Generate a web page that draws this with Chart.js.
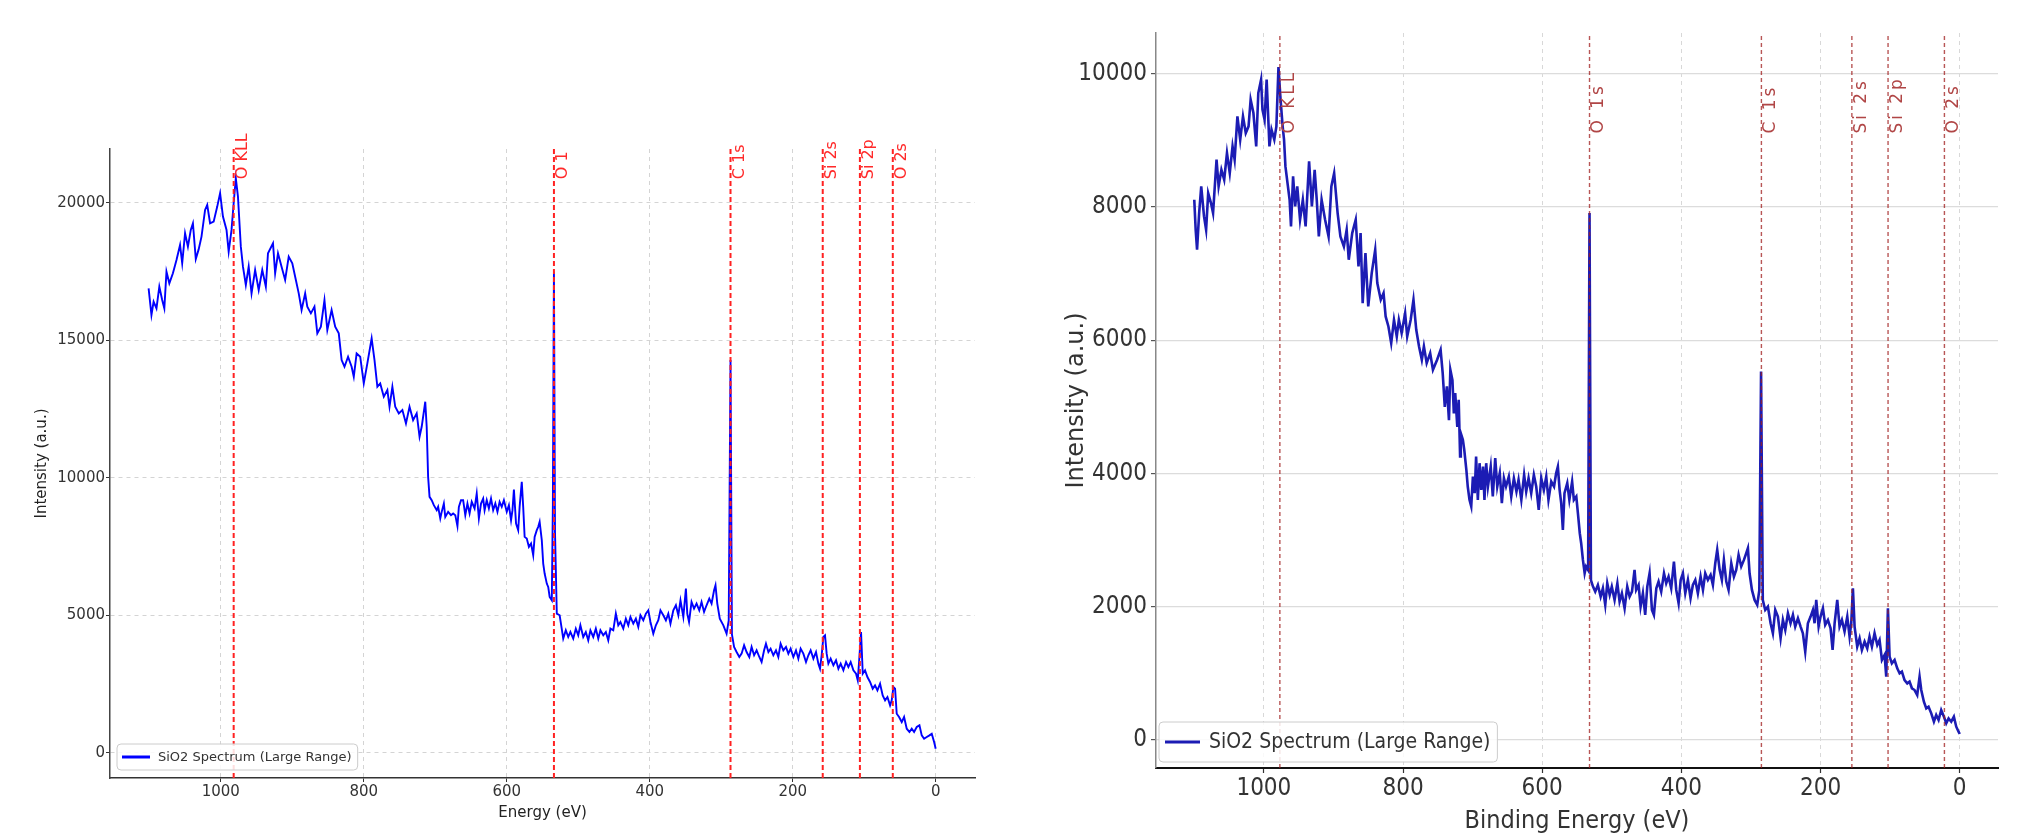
<!DOCTYPE html>
<html>
<head>
<meta charset="utf-8">
<title>SiO2 survey spectra</title>
<script src="https://cdn.jsdelivr.net/npm/chart.js@4.4.1/dist/chart.umd.min.js"></script>
<style>
  html, body { margin: 0; padding: 0; background: #fff; }
  #wrap { position: relative; width: 2023px; height: 834px; overflow: hidden; background: #fff; }
  .panel { position: absolute; top: 0; height: 834px; }
  #leftPanel { left: 0; width: 1010px; }
  #rightPanel { left: 1010px; width: 1013px; }
</style>
</head>
<body>
<div id="wrap">
  <div class="panel" id="leftPanel"><canvas id="leftChart" width="1010" height="834"></canvas></div>
  <div class="panel" id="rightPanel"><canvas id="rightChart" width="1013" height="834"></canvas></div>
</div>
<script>
// ---- left panel: "Energy (eV)" spectrum ----
const leftEnergy = [
  1101, 1097, 1094, 1090, 1086, 1082, 1079, 1076, 1072, 1067, 1062, 1057, 1054, 1050, 1046, 1042, 1039, 1035, 1031, 1027,
  1022, 1019, 1015, 1010, 1005, 1001, 997, 992, 989, 985, 982, 979, 976, 972, 969, 965, 961, 957, 952, 947,
  942, 937, 934, 927, 924, 920, 915, 910, 905, 900, 895, 891, 887, 882, 879, 874, 869, 865, 860, 855,
  851, 845, 840, 835, 831, 827, 822, 817, 814, 810, 805, 800, 795, 789, 785, 781, 777, 772, 767, 764,
  760, 756, 751, 746, 741, 736, 731, 726, 722, 719, 714, 712, 710, 708, 705, 702, 698, 696, 693, 691,
  688, 686, 682, 678, 675, 672, 669, 667, 664, 661, 658, 655, 652, 649, 645, 642, 639, 636, 633, 631,
  628, 625, 622, 619, 616, 613, 610, 607, 604, 600, 597, 594, 592, 590, 587, 584, 582, 579, 577, 575,
  572, 569, 566, 563, 561, 558, 556, 554, 551, 549, 547, 544, 542, 540, 537, 535.5, 534, 532.5, 530, 526,
  523.5, 521, 517.4, 514, 511, 507, 503.4, 500, 497, 493, 489.4, 486, 483, 479, 475.4, 472, 469, 465, 461.4, 458,
  455, 451, 447.4, 444, 441, 437, 433.4, 430, 427, 423, 419.4, 416, 413, 409, 405.4, 402, 399, 395, 391.4, 388,
  385, 381, 377.4, 374, 371, 367, 363.4, 360, 357, 353, 349.4, 347.5, 345, 341.5, 338, 334.5, 330.7, 327.5, 324, 320.5,
  316.7, 313.5, 310, 308, 305.5, 302, 297, 292.5, 289.5, 287, 285, 282, 278.5, 274.7, 271.5, 268, 264.5, 260.7, 257.5, 254,
  250.5, 246.7, 243.5, 240, 237.4, 234, 230.9, 227.1, 223.4, 220.1, 216.9, 213.1, 209.4, 206.1, 202.9, 199.1, 195.4, 192.1, 188.9, 185.1,
  181.4, 178.1, 174.9, 171.1, 167.4, 164.1, 161.8, 159.5, 157.1, 154.8, 152.5, 150.1, 146.9, 143.1, 139.4, 136.1, 132.9, 129.1, 125.4, 122.1,
  118.9, 115.1, 111.4, 109, 106.7, 104.4, 102, 98.8, 95.5, 91.8, 88.1, 84.8, 81.5, 77.8, 74.1, 70.8, 67.5, 63.8, 61.5, 59.1,
  56.8, 54.5, 51.2, 47.5, 44.2, 40.5, 36.7, 33.5, 30.2, 26.5, 22.7, 19.5, 16.2, 12.5, 8.7, 5.5, 2.2, 0
];
const leftIntensity = [
  16885, 15914, 16400, 16157, 16945, 16460, 16157, 17490, 17066, 17430, 17915, 18460, 17794, 18886, 18400, 19007, 19250, 17950, 18300, 18765,
  19735, 19917, 19250, 19310, 19856, 20341, 19493, 19007, 18219, 19007, 19978, 20887, 20220, 18400, 17673, 17006, 17673, 16703, 17551, 16824,
  17551, 16945, 18158, 18522, 17430, 18158, 17673, 17187, 18037, 17794, 17187, 16703, 16096, 16703, 16218, 15975, 16218, 15247, 15490, 16460,
  15369, 16096, 15490, 15247, 14276, 14034, 14397, 14034, 13670, 14519, 14397, 13427, 14155, 15065, 14276, 13306, 13427, 12942, 13185, 12578,
  13306, 12578, 12336, 12457, 11972, 12578, 12093, 12336, 11486, 11850, 12760, 11850, 10030, 9303, 9181, 9000, 8818, 8939, 8515, 8757,
  9060, 8575, 8757, 8636, 8697, 8636, 8235, 8939, 9181, 9181, 8636, 9060, 8697, 9121, 8879, 9424, 8515, 9060, 9242, 8818,
  9181, 8879, 9242, 8818, 9060, 8757, 9121, 8939, 9181, 8757, 9000, 8454, 8818, 9570, 8333, 8090, 8939, 9849, 8939, 7847,
  7787, 7484, 7605, 7180, 7847, 8090, 8211, 8393, 7726, 6877, 6513, 6149, 6028, 5664, 5543, 9000, 17490, 8000, 5057, 4997,
  4572, 4148, 4451, 4208, 4390, 4148, 4512, 4269, 4633, 4208, 4390, 4087, 4451, 4208, 4512, 4148, 4451, 4269, 4390, 4087,
  4512, 4451, 5057, 4633, 4754, 4512, 4875, 4633, 4936, 4693, 4875, 4572, 4997, 4815, 5057, 5179, 4754, 4330, 4633, 4815,
  5179, 4997, 4815, 5057, 4693, 5179, 5360, 4997, 5542, 4936, 5967, 5057, 4754, 5482, 5239, 5421, 5179, 5482, 5118, 5360,
  5603, 5421, 5906, 6088, 5421, 4875, 4632, 4329, 4814, 14276, 4300, 3844, 3662, 3480, 3601, 3904, 3662, 3480, 3844, 3541,
  3722, 3480, 3298, 3722, 3965, 3662, 3783, 3541, 3722, 3480, 3965, 3722, 3844, 3601, 3783, 3480, 3722, 3419, 3783, 3601,
  3298, 3541, 3722, 3419, 3662, 3237, 3055, 3541, 4208, 4268, 3601, 3237, 3419, 3177, 3358, 3055, 3237, 2995, 3298, 3116,
  3298, 2995, 2873, 2631, 3480, 4390, 2873, 2995, 2752, 2570, 2328, 2449, 2267, 2509, 2085, 1903, 2024, 1721, 1903, 2388,
  2328, 1418, 1297, 1115, 1297, 872, 751, 872, 751, 933, 994, 630, 508, 569, 630, 690, 387, 144
];
const leftPeakNames = ['O KLL', 'O 1', 'C 1s', 'Si 2s', 'Si 2p', 'O 2s'];
const leftPeakEnergy = [982, 534, 287, 158, 106, 60];
const leftXTicks = [0, 200, 400, 600, 800, 1000];
const leftYTicks = [0, 5000, 10000, 15000, 20000];

// ---- right panel: "Binding Energy (eV)" spectrum ----
const rightEnergy = [
  1100, 1098, 1096, 1093, 1090, 1086, 1083, 1080, 1076, 1073, 1068, 1065, 1061, 1057, 1053, 1049, 1045, 1042, 1038, 1034,
  1030, 1026, 1022, 1019, 1015, 1011, 1008, 1004, 1002, 999, 996, 992, 989, 985, 982, 979, 976, 973, 971, 969,
  966, 963, 961, 958, 955, 952, 948, 944, 940, 935, 931, 927, 924, 921, 917, 912, 907, 903, 899, 894,
  890, 885, 881, 878, 873, 868, 864, 861, 858, 854, 850, 845, 840, 837, 832, 828, 825, 821, 817, 813,
  809, 806, 802, 797, 794, 789, 785, 781, 777, 773, 770, 766, 761, 757, 751, 746, 743, 740, 737, 734,
  732, 729, 727, 725, 722, 720, 718, 717, 714, 712, 709, 707, 704.5, 702, 699.6, 697, 695, 692.5, 690, 687.6,
  685, 683, 680.5, 678, 674, 671, 667.5, 664.6, 661, 658, 655, 652, 648, 644.5, 640.7, 637, 634, 630, 626, 623,
  619.6, 615.8, 612, 608.6, 605, 601.4, 597.6, 594.2, 591, 587, 583, 580, 577.5, 575, 572.7, 570.3, 568, 564, 561, 557,
  554.5, 551, 548.7, 546, 544, 541.5, 539, 537, 534, 532, 530, 527, 523.8, 520, 516, 512.8, 509.4, 506.5, 503, 500,
  496, 492, 488.8, 485.5, 481.6, 477.8, 474.4, 471, 467.3, 465, 461.5, 458.6, 455.3, 452, 449, 445.7, 442.3, 439.5, 436, 432.8,
  429, 425, 421.8, 418.4, 414.6, 410.7, 407.4, 404, 401, 397.8, 394.4, 390.6, 386.8, 383.5, 380, 376.3, 372.4, 369, 365.7, 361.9,
  358, 354.7, 351.3, 348.5, 345, 341.8, 338.9, 335.5, 332.2, 328.3, 324.5, 321.2, 317.8, 314, 310.1, 306.8, 304.4, 302, 298.6, 294.8,
  291, 288, 285.5, 283, 279.5, 275.7, 271.8, 268.5, 265.1, 261.3, 257.4, 254.1, 250.7, 246.9, 243.1, 239.7, 236.4, 232.5, 228.7, 225.4,
  222, 218.2, 214.3, 211, 208.6, 206.2, 202.8, 200, 196.6, 193.3, 189.4, 185.6, 182.7, 179.8, 176, 172.7, 169.3, 165.5, 161.6, 158.3,
  155.9, 153.5, 151.1, 147.3, 143.9, 140.6, 136.7, 132.9, 129.6, 126.2, 122.4, 118.5, 115.2, 111.8, 108, 105.6, 103.2, 100.8, 97.5, 93.6,
  89.8, 86.4, 83.1, 79.3, 75.4, 72.1, 68.7, 64.9, 61.1, 57.7, 55.3, 51.5, 48.1, 44.8, 40.9, 37.1, 33.8, 30.4, 26.6, 22.7,
  19.4, 16, 12.2, 8.4, 5, 1.7, 0
];
const rightIntensity = [
  8108, 7657, 7357, 7908, 8308, 7858, 7657, 8208, 8058, 7908, 8709, 8308, 8558, 8408, 8809, 8508, 8909, 8709, 9359, 9009,
  9359, 9109, 9209, 9609, 9409, 8909, 9709, 9910, 9459, 9309, 9910, 8909, 9159, 9009, 9209, 10100, 9609, 9209, 9009, 8608,
  8358, 8108, 7707, 8458, 8008, 8308, 7808, 8108, 7707, 8684, 8008, 8558, 8108, 7557, 8108, 7808, 7557, 8308, 8508, 7908,
  7557, 7407, 7657, 7207, 7607, 7808, 7107, 7607, 6556, 7307, 6506, 7007, 7357, 6857, 6607, 6707, 6356, 6206, 5956, 6306,
  6056, 6306, 6106, 6406, 6056, 6306, 6607, 6156, 5906, 5706, 5906, 5656, 5806, 5556, 5706, 5856, 5506, 5000, 5306, 4800,
  5556, 5400, 4900, 5206, 4700, 5105, 4254, 4605, 4505, 4354, 4054, 3804, 3604, 3504, 3954, 3704, 4254, 3604, 4154, 3754,
  4104, 3604, 4154, 3804, 4104, 3654, 4229, 3804, 4004, 3554, 3929, 3804, 3954, 3654, 3929, 3729, 3904, 3604, 3979, 3729,
  3929, 3704, 3979, 3804, 3454, 3929, 3754, 3954, 3604, 3879, 3804, 4004, 4104, 3754, 3554, 3153, 3704, 3854, 3604, 3879,
  3604, 3654, 3404, 3103, 2953, 2703, 2503, 2603, 2550, 7908, 2400, 2302, 2227, 2327, 2152, 2277, 2027, 2352, 2177, 2302,
  2102, 2352, 2077, 2202, 1977, 2302, 2152, 2227, 2553, 2252, 2327, 2002, 2202, 1877, 2302, 2502, 1952, 1877, 2277, 2377,
  2227, 2502, 2352, 2452, 2277, 2678, 2252, 2052, 2402, 2502, 2202, 2402, 2127, 2327, 2402, 2202, 2452, 2252, 2502, 2402,
  2477, 2327, 2653, 2853, 2553, 2402, 2703, 2377, 2252, 2653, 2452, 2553, 2778, 2603, 2703, 2803, 2878, 2502, 2252, 2102,
  2027, 2250, 5530, 2100, 1952, 2002, 1752, 1602, 1952, 1852, 1526, 1802, 1652, 1902, 1752, 1877, 1702, 1827, 1702, 1602,
  1326, 1752, 1852, 1952, 1752, 2102, 1702, 1852, 1977, 1727, 1802, 1677, 1351, 1752, 2102, 1702, 1802, 1627, 1852, 1551,
  1752, 2277, 1702, 1401, 1526, 1351, 1476, 1376, 1551, 1401, 1602, 1426, 1502, 1201, 1276, 950, 1977, 1251, 1151, 1201,
  1076, 1001, 1026, 900, 850, 876, 776, 750, 675, 950, 750, 575, 475, 500, 400, 275, 375, 300, 450, 350,
  250, 325, 275, 350, 200, 125, 90
];
const rightPeakNames = ['O KLL', 'O 1s', 'C 1s', 'Si 2s', 'Si 2p', 'O 2s'];
const rightPeakEnergy = [977, 532, 285, 155, 103, 22];
const rightXTicks = [0, 200, 400, 600, 800, 1000];
const rightYTicks = [0, 2000, 4000, 6000, 8000, 10000];

const legendText = 'SiO2 Spectrum (Large Range)';

const toPoints = (xs, ys) => xs.map((x, i) => ({ x: x, y: ys[i] }));

// draws rotated peak labels and the in-plot legend box
const overlayPlugin = {
    id: 'overlay',
    afterDatasetsDraw(chart, args, opts) {
        const { ctx, chartArea } = chart;
        const xs = chart.scales.x, ys = chart.scales.y;

        ctx.save();
        ctx.font = opts.labelFont;
        ctx.fillStyle = opts.labelColor;
        ctx.letterSpacing = opts.letterSpacing;
        ctx.textAlign = 'left';
        ctx.textBaseline = 'top';
        opts.names.forEach((name, i) => {
            const px = xs.getPixelForValue(opts.energies[i]);
            const py = ys.getPixelForValue(opts.labelY);
            ctx.save();
            ctx.translate(px + opts.gap, py);
            ctx.rotate(-Math.PI / 2);
            ctx.fillText(name, 0, 0);
            ctx.restore();
        });
        ctx.restore();

        // legend
        const lg = opts.legend;
        ctx.save();
        ctx.font = lg.font;
        const tw = ctx.measureText(lg.text).width;
        const bx = chartArea.left + lg.offsetX;
        const by = chartArea.bottom - lg.offsetY - lg.height;
        const bw = lg.padLeft + lg.lineLen + lg.gap + tw + lg.padRight;
        ctx.beginPath();
        ctx.roundRect(bx, by, bw, lg.height, 4);
        ctx.fillStyle = 'rgba(255,255,255,0.85)';
        ctx.fill();
        ctx.strokeStyle = lg.boxColor;
        ctx.lineWidth = 1;
        ctx.stroke();
        const cy = by + lg.height / 2;
        ctx.beginPath();
        ctx.moveTo(bx + lg.padLeft, cy);
        ctx.lineTo(bx + lg.padLeft + lg.lineLen, cy);
        ctx.strokeStyle = lg.lineColor;
        ctx.lineWidth = lg.lineWidth;
        ctx.stroke();
        ctx.fillStyle = lg.color;
        ctx.textAlign = 'left';
        ctx.textBaseline = 'middle';
        ctx.fillText(lg.text, bx + lg.padLeft + lg.lineLen + lg.gap, cy + 1);
        ctx.restore();
    }
};

function markerSets(energies, yMin, yMax, color, width, dash) {
    return energies.map(e => ({
        data: [{ x: e, y: yMin }, { x: e, y: yMax }],
        borderColor: color,
        borderWidth: width,
        borderDash: dash,
        pointRadius: 0,
        fill: false,
        order: 1
    }));
}

// ---- left chart ----
const LEFT_Y = { min: -920, max: 21950 };
const leftFont = '"DejaVu Sans", sans-serif';
new Chart(document.getElementById('leftChart').getContext('2d'), {
    type: 'line',
    data: {
        datasets: [{
            label: legendText,
            data: toPoints(leftEnergy, leftIntensity),
            borderColor: '#0000ff',
            borderWidth: 1.9,
            pointRadius: 0,
            tension: 0,
            fill: false,
            order: 2
        }].concat(markerSets(leftPeakEnergy, LEFT_Y.min, LEFT_Y.max, '#ff2222', 2, [5, 3]))
    },
    options: {
        responsive: false,
        animation: false,
        devicePixelRatio: 1,
        layout: { padding: { left: 0, right: 35, top: 149, bottom: 0 } },
        scales: {
            x: {
                type: 'linear',
                reverse: true,
                min: -55,
                max: 1155,
                afterBuildTicks: s => { s.ticks = leftXTicks.map(v => ({ value: v })); },
                afterFit: s => { s.height = 56; },
                ticks: { font: { family: leftFont, size: 15 }, color: '#333', padding: 1, maxRotation: 0, autoSkip: false, callback: v => String(v) },
                grid: { color: '#d4d4d4', lineWidth: 1, drawTicks: true, tickLength: 4, tickColor: '#333', tickWidth: 1, tickBorderDash: [] },
                border: { display: true, color: '#333', width: 1.5, dash: [4, 4] },
                title: { display: true, text: 'Energy (eV)', font: { family: leftFont, size: 15 }, color: '#222', padding: { top: 0, bottom: 12 } }
            },
            y: {
                type: 'linear',
                min: LEFT_Y.min,
                max: LEFT_Y.max,
                afterBuildTicks: s => { s.ticks = leftYTicks.map(v => ({ value: v })); },
                afterFit: s => { s.width = 110; },
                ticks: { font: { family: leftFont, size: 15 }, color: '#333', padding: 1, autoSkip: false, callback: v => String(v) },
                grid: { color: '#d4d4d4', lineWidth: 1, drawTicks: true, tickLength: 4, tickColor: '#333', tickWidth: 1, tickBorderDash: [] },
                border: { display: true, color: '#444', width: 1.5, dash: [4, 4] },
                title: { display: true, text: 'Intensity (a.u.)', font: { family: leftFont, size: 15 }, color: '#222', padding: { top: 33, bottom: 0 } }
            }
        },
        plugins: {
            legend: { display: false },
            tooltip: { enabled: false },
            overlay: {
                names: leftPeakNames,
                energies: leftPeakEnergy,
                labelY: 20850,
                labelFont: '16px "DejaVu Sans", sans-serif',
                labelColor: '#ff2a2a',
                letterSpacing: '0px',
                gap: 1,
                legend: {
                    text: legendText, font: '13px "DejaVu Sans", sans-serif', color: '#333',
                    offsetX: 7, offsetY: 8, height: 26, padLeft: 5, lineLen: 28, gap: 8, padRight: 6,
                    lineColor: '#0000ff', lineWidth: 3, boxColor: '#cccccc'
                }
            }
        }
    },
    plugins: [overlayPlugin]
});

// ---- right chart ----
const RIGHT_Y = { min: -420, max: 10610 };
const narrowFont = '"Liberation Sans Narrow", "DejaVu Sans Condensed", "Liberation Sans", sans-serif';
new Chart(document.getElementById('rightChart').getContext('2d'), {
    type: 'line',
    data: {
        datasets: [{
            label: legendText,
            data: toPoints(rightEnergy, rightIntensity),
            borderColor: '#1c1cb4',
            borderWidth: 2.6,
            pointRadius: 0,
            tension: 0,
            fill: false,
            order: 2
        }].concat(markerSets(rightPeakEnergy, RIGHT_Y.min, RIGHT_Y.max, 'rgba(160,30,30,0.75)', 1.4, [4, 3]))
    },
    options: {
        responsive: false,
        animation: false,
        devicePixelRatio: 1,
        layout: { padding: { left: 0, right: 25, top: 33, bottom: 0 } },
        scales: {
            x: {
                type: 'linear',
                reverse: true,
                min: -55,
                max: 1155,
                afterBuildTicks: s => { s.ticks = rightXTicks.map(v => ({ value: v })); },
                afterFit: s => { s.height = 66; },
                ticks: { font: { family: narrowFont, size: 24 }, color: '#333', padding: 1, maxRotation: 0, autoSkip: false, callback: v => String(v) },
                grid: { color: '#d8d8d8', lineWidth: 1, drawTicks: true, tickLength: 5, tickColor: '#333', tickWidth: 1.2, tickBorderDash: [] },
                border: { display: true, color: '#111', width: 2, dash: [4, 4] },
                title: { display: true, text: 'Binding Energy (eV)', font: { family: narrowFont, size: 25, lineHeight: 1 }, color: '#333', padding: { top: 0, bottom: 0 } }
            },
            y: {
                type: 'linear',
                min: RIGHT_Y.min,
                max: RIGHT_Y.max,
                afterBuildTicks: s => { s.ticks = rightYTicks.map(v => ({ value: v })); },
                afterFit: s => { s.width = 146; },
                ticks: { font: { family: narrowFont, size: 24 }, color: '#333', padding: 4, autoSkip: false, callback: v => String(v) },
                grid: { color: '#dcdcdc', lineWidth: 1.2, drawTicks: true, tickLength: 5, tickColor: '#555', tickWidth: 1.2, tickBorderDash: [] },
                border: { display: true, color: '#888', width: 1.5, dash: [] },
                title: { display: true, text: 'Intensity (a.u.)', font: { family: '"DejaVu Sans", sans-serif', size: 24 }, color: '#333', padding: { top: 52, bottom: 0 } }
            }
        },
        plugins: {
            legend: { display: false },
            tooltip: { enabled: false },
            overlay: {
                names: rightPeakNames,
                energies: rightPeakEnergy,
                labelY: 9100,
                labelFont: '17px "DejaVu Sans", sans-serif',
                labelColor: '#b04545',
                letterSpacing: '3px',
                gap: 1,
                legend: {
                    text: legendText, font: '21px ' + narrowFont, color: '#333',
                    offsetX: 3, offsetY: 6, height: 40, padLeft: 6, lineLen: 35, gap: 9, padRight: 7,
                    lineColor: '#1c1cb4', lineWidth: 3, boxColor: '#cccccc'
                }
            }
        }
    },
    plugins: [overlayPlugin]
});
</script>
</body>
</html>
